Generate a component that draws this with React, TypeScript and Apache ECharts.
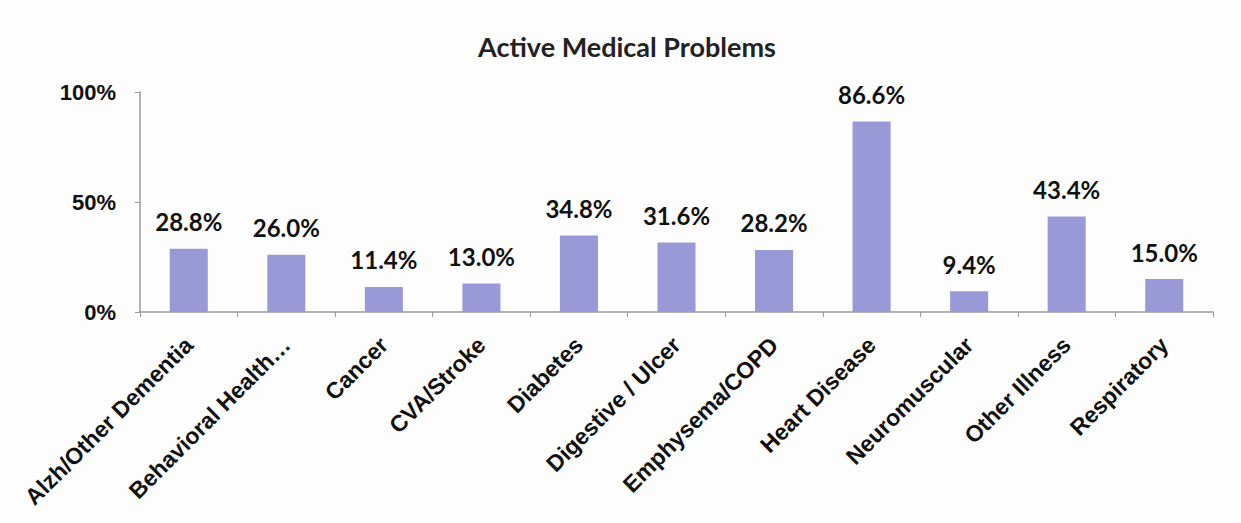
import React, { useEffect, useRef } from "react";
import * as echarts from "echarts";

const categories = [
  "Alzh/Other Dementia",
  "Behavioral Health…",
  "Cancer",
  "CVA/Stroke",
  "Diabetes",
  "Digestive / Ulcer",
  "Emphysema/COPD",
  "Heart Disease",
  "Neuromuscular",
  "Other Illness",
  "Respiratory",
];
const values = [28.8, 26.0, 11.4, 13.0, 34.8, 31.6, 28.2, 86.6, 9.4, 43.4, 15.0];
const yTicks = [0, 50, 100];
const title = "Active Medical Problems";

export default function App() {
  const ref = useRef<HTMLDivElement>(null);
  useEffect(() => {
    document.body.style.margin = "0";
    if (!ref.current) return;
    const chart = echarts.init(ref.current, undefined, { renderer: "svg" });
    chart.setOption({
      animation: false,
      backgroundColor: "#fcfdfc",
      title: {
        text: title,
        left: 622,
        top: 28,
        textAlign: "center",
        textStyle: { fontFamily: "Lato", fontWeight: "bold", fontSize: 27, color: "#222" },
      },
      grid: { left: 140, right: 28, top: 92, bottom: 211, containLabel: false },
      xAxis: {
        type: "category",
        data: categories,
        axisLine: { lineStyle: { color: "#999", width: 1.5 } },
        axisTick: { show: true, alignWithLabel: false, length: 5, lineStyle: { color: "#999" } },
        axisLabel: {
          rotate: 45,
          interval: 0,
          margin: 29,
          fontFamily: "Liberation Sans",
          fontWeight: "bold",
          fontSize: 23,
          color: "#111",
        },
      },
      yAxis: {
        type: "value",
        min: 0,
        max: 100,
        interval: 50,
        splitLine: { show: false },
        axisLine: { show: true, lineStyle: { color: "#999", width: 1.5 } },
        axisTick: { show: true, length: 5, lineStyle: { color: "#999" } },
        axisLabel: {
          margin: 24,
          fontFamily: "Liberation Sans",
          fontWeight: "bold",
          fontSize: 22,
          color: "#111",
          formatter: (v: number) => (yTicks.includes(v) ? v + "%" : ""),
        },
      },
      series: [
        {
          type: "bar",
          data: values,
          barWidth: "39%",
          itemStyle: { color: "#9999d8" },
          label: {
            show: true,
            position: "top",
            distance: 15,
            fontFamily: "Lato",
            fontWeight: "bold",
            fontSize: 24,
            color: "#111",
            formatter: (p: any) => p.value.toFixed(1) + "%",
          },
        },
      ],
    });
    return () => chart.dispose();
  }, []);
  return <div ref={ref} style={{ width: 1241, height: 523 }} />;
}
